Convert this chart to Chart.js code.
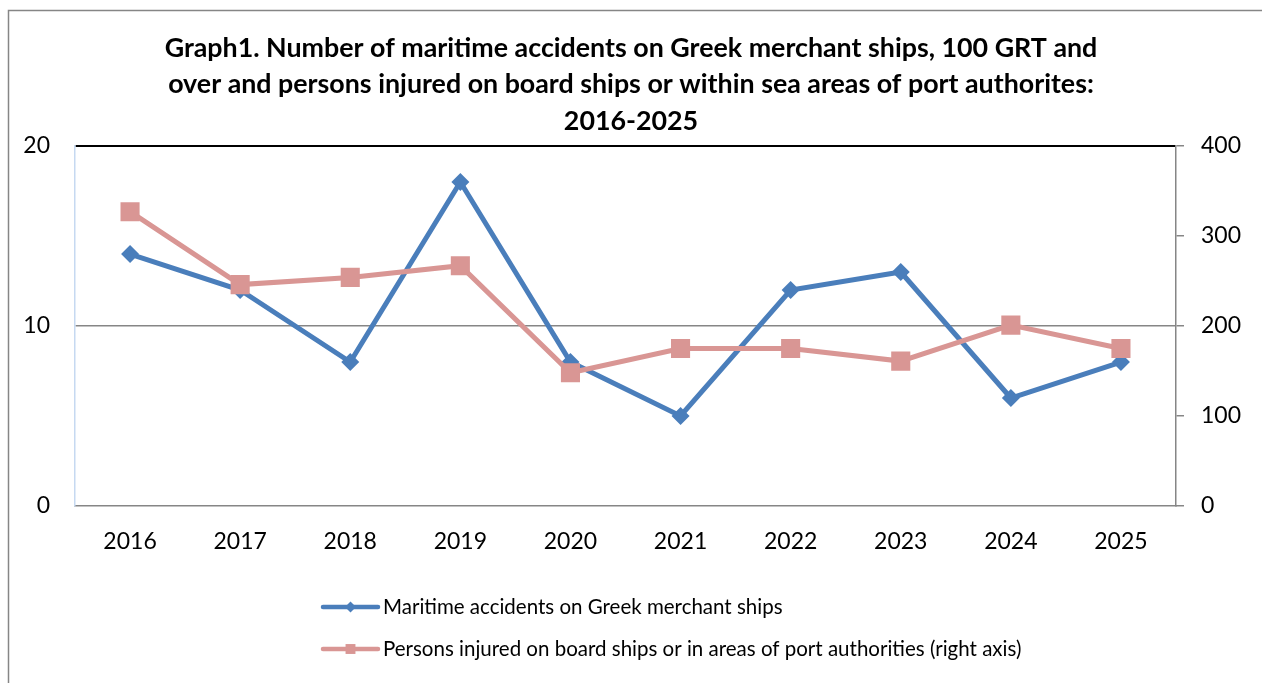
<!DOCTYPE html>
<html>
<head>
<meta charset="utf-8">
<script src="https://cdn.jsdelivr.net/npm/chart.js@4.4.1/dist/chart.umd.min.js"></script>
<style>
  html, body { margin: 0; padding: 0; background: #fff; }
  #wrap { width: 1262px; height: 683px; position: relative; }
</style>
</head>
<body>
<div id="wrap"><canvas id="chart"></canvas></div>
<script>
const years = ["2016", "2017", "2018", "2019", "2020", "2021", "2022", "2023", "2024", "2025"];
const accidents = [14, 12, 8, 18, 8, 5, 12, 13, 6, 8];
const injured = [327, 246, 254, 267, 148, 175, 175, 161, 201, 175];
const leftTicks = [0, 10, 20];
const rightTicks = [0, 100, 200, 300, 400];
const titleLines = [
  "Graph1. Number of maritime accidents on Greek merchant ships, 100 GRT and",
  "over and persons injured on board ships or within sea areas of port authorites:",
  "2016-2025"
];
const seriesNames = [
  "Maritime accidents on Greek merchant ships",
  "Persons injured on board ships or in areas of port authorities (right axis)"
];

const FONT = "Lato, 'Open Sans', sans-serif";
const BLUE = "#4a7ebb";
const PINK = "#d99694";
const GREY = "#868686";

// outer frame + white background
const framePlugin = {
  id: "frame",
  beforeDraw(chart) {
    const ctx = chart.ctx;
    ctx.save();
    ctx.fillStyle = "#fff";
    ctx.fillRect(0, 0, chart.width, chart.height);
    ctx.strokeStyle = GREY;
    ctx.lineWidth = 1.5;
    ctx.strokeRect(8.5, 10.5, chart.width + 20, chart.height + 20);
    ctx.restore();
  }
};

// legend stacked in two rows, left aligned like the Excel original
const legendPlugin = {
  id: "stackLegend",
  afterDraw(chart) {
    const ctx = chart.ctx;
    const x0 = 323, rows = [607, 649];
    const markR = [5.5, 7];
    chart.data.datasets.forEach((ds, i) => {
      const y = rows[i];
      ctx.save();
      ctx.strokeStyle = ds.borderColor;
      ctx.lineWidth = 4.5;
      ctx.lineCap = "round";
      ctx.beginPath();
      ctx.moveTo(x0, y);
      ctx.lineTo(x0 + 55, y);
      ctx.stroke();
      ctx.fillStyle = ds.pointBackgroundColor;
      Chart.helpers.drawPoint(ctx, { pointStyle: ds.pointStyle, rotation: 0, radius: markR[i], borderWidth: 0 }, x0 + 27.5, y);
      ctx.fillStyle = "#000";
      ctx.font = "20.5px " + FONT;
      ctx.textBaseline = "middle";
      ctx.fillText(ds.label, x0 + 60, y);
      ctx.restore();
    });
  }
};

new Chart(document.getElementById("chart"), {
  type: "line",
  data: {
    labels: years,
    datasets: [
      {
        label: seriesNames[0], data: accidents, yAxisID: "y", order: 1,
        borderColor: BLUE, backgroundColor: BLUE, pointBackgroundColor: BLUE,
        borderWidth: 5, pointStyle: "rectRot", pointRadius: 9, pointBorderWidth: 0, tension: 0
      },
      {
        label: seriesNames[1], data: injured, yAxisID: "y1", order: 0,
        borderColor: PINK, backgroundColor: PINK, pointBackgroundColor: PINK,
        borderWidth: 5, pointStyle: "rect", pointRadius: 13.5, pointBorderWidth: 0, tension: 0
      }
    ]
  },
  options: {
    responsive: true,
    maintainAspectRatio: false,
    animation: false,
    layout: { padding: 0 },
    plugins: {
      legend: { display: false },
      tooltip: { enabled: false },
      title: {
        display: true,
        text: titleLines,
        color: "#000",
        font: { family: FONT, size: 26.8, weight: "bold", lineHeight: 1.362 },
        padding: { top: 30, bottom: 6.5 }
      }
    },
    scales: {
      x: {
        offset: true,
        grid: { display: false },
        border: { color: GREY, width: 1.5 },
        ticks: { color: "#000", font: { family: FONT, size: 23 }, padding: 14 },
        afterFit: s => { s.height = 177; }
      },
      y: {
        position: "left",
        min: leftTicks[0], max: leftTicks[leftTicks.length - 1],
        ticks: { stepSize: leftTicks[1] - leftTicks[0], color: "#000", font: { family: FONT, size: 23 }, padding: 25 },
        grid: {
          drawTicks: false,
          color: c => c.tick.value === 20 ? "#000" : (c.tick.value === 10 ? GREY : "rgba(0,0,0,0)"),
          lineWidth: c => c.tick.value === 20 ? 2 : 1.5
        },
        border: { color: "#c6d9f1", width: 1.5 },
        afterFit: s => { s.width = 75; }
      },
      y1: {
        position: "right",
        min: rightTicks[0], max: rightTicks[rightTicks.length - 1],
        ticks: { stepSize: rightTicks[1] - rightTicks[0], color: "#000", font: { family: FONT, size: 23 }, padding: 17 },
        grid: { drawOnChartArea: false, drawTicks: true, tickLength: 8, color: GREY, tickColor: GREY, lineWidth: 1.5 },
        border: { color: GREY, width: 1.5 },
        afterFit: s => { s.width = 86; }
      }
    }
  },
  plugins: [framePlugin, legendPlugin]
});
</script>
</body>
</html>
